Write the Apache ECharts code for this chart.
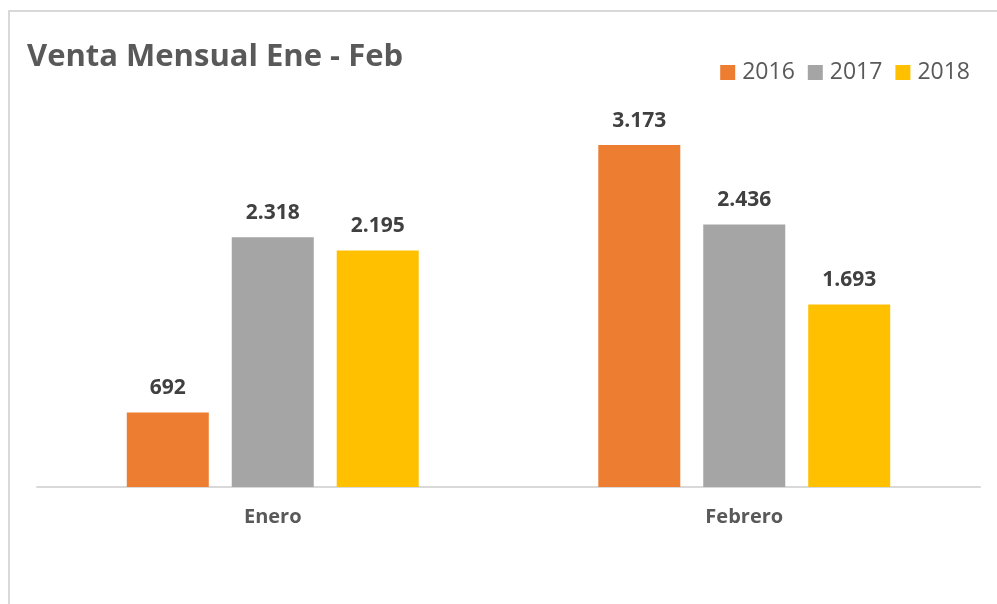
<!DOCTYPE html>
<html>
<head>
<meta charset="utf-8">
<script src="https://cdn.jsdelivr.net/npm/echarts@6/dist/echarts.min.js"></script>
<style>
  html, body { margin: 0; padding: 0; background: #fff; }
  #frame { position: absolute; left: 8px; top: 10px; width: 1000px; height: 700px; border: 2px solid #d9d9d9; box-sizing: border-box; }
  #chart { position: absolute; left: 0; top: 0; width: 997px; height: 604px; }
</style>
</head>
<body>
<div id="frame"></div>
<div id="chart"></div>
<script>
const categories = ['Enero', 'Febrero'];
const years = ['2016', '2017', '2018'];
const ventas2016 = [692, 3173];
const ventas2017 = [2318, 2436];
const ventas2018 = [2195, 1693];
const colores = ['#ED7D31', '#A5A5A5', '#FFC000'];

// separador de miles con punto
function fmt(v) {
  return String(v).replace(/\B(?=(\d{3})+(?!\d))/g, '.');
}

const chart = echarts.init(document.getElementById('chart'));

const seriesData = [ventas2016, ventas2017, ventas2018];

chart.setOption({
  animation: false,
  textStyle: { fontFamily: 'Open Sans' },
  title: {
    text: 'Venta Mensual Ene - Feb',
    left: 22,
    top: 37,
    textStyle: { fontSize: 31, fontWeight: 'bold', color: '#595959', fontFamily: 'Open Sans' }
  },
  legend: {
    data: years,
    right: 22,
    top: 56,
    itemWidth: 15,
    itemHeight: 15,
    itemGap: 13,
    icon: 'rect',
    textStyle: { fontSize: 23, color: '#595959', padding: [0, 0, 0, 2] }
  },
  grid: { left: 37, right: 17, top: 56, bottom: 117 },
  xAxis: {
    type: 'category',
    data: categories,
    axisLine: { lineStyle: { color: '#d9d9d9', width: 2 } },
    axisTick: { show: false },
    axisLabel: { fontSize: 20, fontWeight: 'bold', color: '#595959', margin: 20 }
  },
  yAxis: {
    type: 'value',
    min: 0,
    max: 4000,
    show: false,
    splitLine: { show: false }
  },
  series: years.map((y, i) => ({
    name: y,
    type: 'bar',
    data: seriesData[i],
    barWidth: 82,
    barGap: '28%',
    itemStyle: { color: colores[i] },
    label: {
      show: true,
      position: 'top',
      distance: 14,
      fontSize: 21,
      fontWeight: 'bold',
      color: '#404040',
      formatter: p => fmt(p.value)
    }
  }))
});
</script>
</body>
</html>
